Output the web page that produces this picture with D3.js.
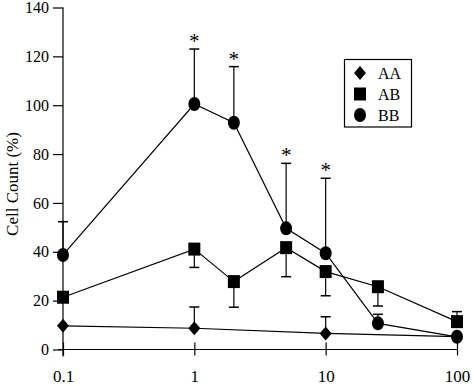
<!DOCTYPE html>
<html>
<head>
<meta charset="utf-8">
<script src="https://cdn.jsdelivr.net/npm/d3@7"></script>
<style>
  body { margin: 0; background: #fff; }
</style>
</head>
<body>
<div id="chart"></div>
<script>
// dose (x, log scale) and cell count (%)
const doses = [0.1, 1, 2, 5, 10, 25, 100];
const aaDoses = [0.1, 1, 10, 100];
const aaValues = [9.7, 8.7, 6.6, 5.3];
const aaErrEnd = [null, 17.4, 13.4, null];
const abValues = [21.4, 41.1, 27.8, 41.7, 31.9, 25.7, 11.4];
const abErrEnd = [null, 33.6, 17.3, 29.8, 22.0, 17.8, 15.5];
const bbValues = [38.7, 100.5, 92.8, 49.6, 39.4, 10.7, 5.2];
const bbErrEnd = [52.3, 123, 115.8, 76.2, 70.1, 14.4, null];
const sigDoses = [1, 2, 5, 10];
const xTicks = [0.1, 1, 10, 100];
const xTickLabels = ["0.1", "1", "10", "100"];
const yTicks = [0, 20, 40, 60, 80, 100, 120, 140];
const legendLabels = ["AA", "AB", "BB"];

const serif = "'Liberation Serif', 'Times New Roman', 'DejaVu Serif', serif";
const width = 474, height = 386;
const svg = d3.select("#chart").append("svg")
  .attr("width", width)
  .attr("height", height)
  .style("font-family", serif);

const x = d3.scaleLog().domain([0.1, 100]).range([63, 457]);
const y = d3.scaleLinear().domain([0, 140]).range([349.5, 7.5]);

// axes
const yAxis = svg.append("g")
  .attr("transform", `translate(${x(0.1)},0)`)
  .call(d3.axisLeft(y).tickValues(yTicks).tickSize(10).tickPadding(4))
  .attr("font-family", null)
  .attr("font-size", null);
yAxis.select(".domain").remove();
yAxis.selectAll("line").attr("stroke-width", 1.2);
yAxis.selectAll("text").style("font-size", "16px").style("font-family", serif);
svg.append("line")
  .attr("x1", x(0.1)).attr("x2", x(0.1))
  .attr("y1", y(140)).attr("y2", y(0) + 7)
  .attr("stroke", "#000").attr("stroke-width", 1.2);

const xAxis = svg.append("g")
  .attr("transform", `translate(0,${y(0)})`)
  .call(d3.axisBottom(x).tickValues(xTicks).tickFormat((d, i) => xTickLabels[i]).tickSize(6))
  .attr("font-family", null)
  .attr("font-size", null);
xAxis.select(".domain").remove();
xAxis.selectAll("line").attr("y1", -7).attr("y2", 6).attr("stroke-width", 1.2);
xAxis.selectAll("text").attr("y", 32).attr("dy", 0).style("font-size", "17px").style("font-family", serif);
svg.append("line")
  .attr("x1", x(0.1) - 5).attr("x2", x(100))
  .attr("y1", y(0)).attr("y2", y(0))
  .attr("stroke", "#000").attr("stroke-width", 1.2);

svg.append("text")
  .attr("transform", `translate(18,${184}) rotate(-90)`)
  .attr("text-anchor", "middle")
  .style("font-size", "17px")
  .style("font-family", serif)
  .text("Cell Count (%)");

// series
const series = [
  { xs: aaDoses, vals: aaValues, err: aaErrEnd, shape: "diamond" },
  { xs: doses, vals: abValues, err: abErrEnd, shape: "square" },
  { xs: doses, vals: bbValues, err: bbErrEnd, shape: "circle" }
];

const line = d3.line()
  .x(d => x(d[0]))
  .y(d => y(d[1]));

series.forEach(s => {
  const pts = s.xs.map((d, i) => [d, s.vals[i], s.err[i]]);
  svg.append("path")
    .attr("d", line(pts))
    .attr("fill", "none")
    .attr("stroke", "#000")
    .attr("stroke-width", 1.2);
  const eb = svg.append("g");
  pts.filter(p => p[2] != null).forEach(p => {
    eb.append("line")
      .attr("x1", x(p[0])).attr("x2", x(p[0]))
      .attr("y1", y(p[1])).attr("y2", y(p[2]))
      .attr("stroke", "#000").attr("stroke-width", 1.2);
    eb.append("line")
      .attr("x1", x(p[0]) - 5).attr("x2", x(p[0]) + 5)
      .attr("y1", y(p[2])).attr("y2", y(p[2]))
      .attr("stroke", "#000").attr("stroke-width", 1.5);
  });
});

function drawMarker(g, shape, cx, cy) {
  if (shape === "diamond") {
    g.append("path")
      .attr("d", `M${cx},${cy - 7}L${cx + 6},${cy}L${cx},${cy + 7}L${cx - 6},${cy}Z`)
      .attr("fill", "#000");
  } else if (shape === "square") {
    g.append("rect")
      .attr("x", cx - 6).attr("y", cy - 6.5)
      .attr("width", 12).attr("height", 13)
      .attr("fill", "#000");
  } else {
    g.append("ellipse")
      .attr("cx", cx).attr("cy", cy)
      .attr("rx", 6).attr("ry", 7)
      .attr("fill", "#000");
  }
}

const marks = svg.append("g");
series.forEach(s => {
  s.xs.forEach((d, i) => drawMarker(marks, s.shape, x(d), y(s.vals[i])));
});

// significance stars
svg.append("g").selectAll("text")
  .data(sigDoses)
  .join("text")
  .attr("x", d => x(d))
  .attr("y", d => y(bbErrEnd[doses.indexOf(d)]) - 1)
  .attr("text-anchor", "middle")
  .attr("fill", "#000")
  .style("font-size", "21px")
  .style("font-family", serif)
  .text("*");

// legend
const legend = svg.append("g");
legend.append("rect")
  .attr("x", 344.5).attr("y", 59.5)
  .attr("width", 67).attr("height", 67.5)
  .attr("fill", "#fff").attr("stroke", "#000").attr("stroke-width", 1.2);
legendLabels.forEach((lab, i) => {
  const ly = 73 + i * 21;
  drawMarker(legend, series[i].shape, 360, ly);
  legend.append("text")
    .attr("x", 378).attr("y", ly + 5.5)
    .attr("fill", "#000")
    .style("font-size", "16px")
    .style("font-family", serif)
    .text(lab);
});
</script>
</body>
</html>
